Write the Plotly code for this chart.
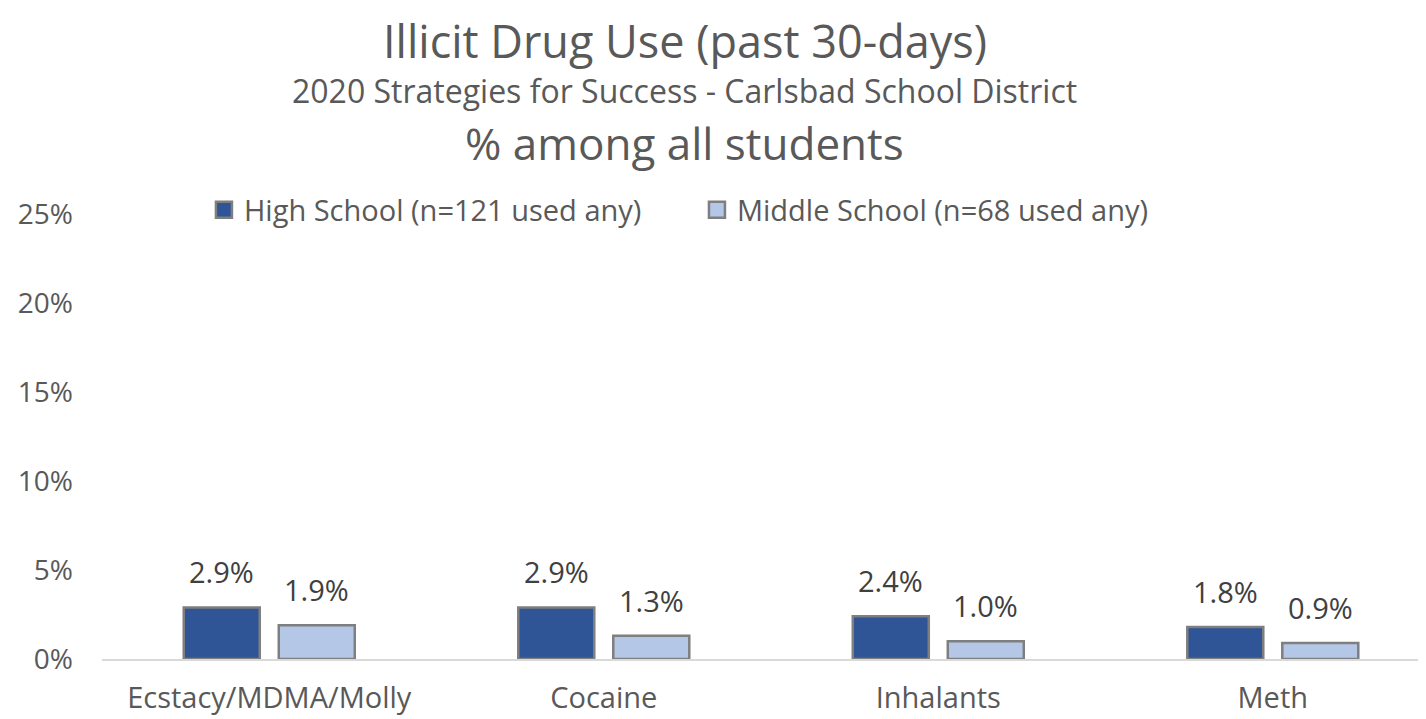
import plotly.graph_objects as go

categories = ["Ecstacy/MDMA/Molly", "Cocaine", "Inhalants", "Meth"]
high_school = [2.9, 2.9, 2.4, 1.8]
middle_school = [1.9, 1.3, 1.0, 0.9]
hs_name = "High School (n=121 used any)"
ms_name = "Middle School (n=68 used any)"
tick_vals = [0, 5, 10, 15, 20, 25]
tick_text = ["0%", "5%", "10%", "15%", "20%", "25%"]

FONT = "Open Sans"
GREY = "#595959"
LABEL = "#404040"
HS_COLOR = "#2F5597"
MS_COLOR = "#B4C7E7"
EDGE = "#7F7F7F"

fig = go.Figure()
fig.add_trace(go.Bar(
    x=categories, y=high_school, name=hs_name, showlegend=False,
    marker=dict(color=HS_COLOR, line=dict(color=EDGE, width=2.5)),
))
fig.add_trace(go.Bar(
    x=categories, y=middle_school, name=ms_name, showlegend=False,
    marker=dict(color=MS_COLOR, line=dict(color=EDGE, width=2.5)),
))
# legend entries with larger square swatches
for name, color in ((hs_name, HS_COLOR), (ms_name, MS_COLOR)):
    fig.add_trace(go.Scatter(
        x=[None], y=[None], mode="markers", name=name, showlegend=True,
        marker=dict(symbol="square", size=17, color=color, line=dict(color=EDGE, width=2.5)),
    ))

annotations = [
    dict(text="Illicit Drug Use (past 30-days)", x=0.44, y=1.39, xref="paper", yref="paper",
         xanchor="center", yanchor="middle", showarrow=False, font=dict(size=45, color=GREY)),
    dict(text="2020 Strategies for Success - Carlsbad School District", x=0.44, y=1.278,
         xref="paper", yref="paper", xanchor="center", yanchor="middle", showarrow=False,
         font=dict(size=32, color=GREY)),
    dict(text="% among all students", x=0.44, y=1.16, xref="paper", yref="paper",
         xanchor="center", yanchor="middle", showarrow=False, font=dict(size=44, color=GREY)),
]
for series, shift in ((high_school, -47.5), (middle_school, 47.5)):
    for cat, v in zip(categories, series):
        annotations.append(dict(
            text=f"{v:.1f}%", x=cat, y=v, xref="x", yref="y", xshift=shift, yshift=14,
            xanchor="center", yanchor="bottom", showarrow=False,
            font=dict(size=29, color=LABEL)))

fig.update_layout(
    width=1418, height=711,
    margin=dict(l=94, r=0, t=206, b=60),
    paper_bgcolor="white", plot_bgcolor="white",
    barmode="group", bargap=0.432, bargroupgap=0.2,
    font=dict(family=FONT, color=GREY, size=28),
    showlegend=True,
    legend=dict(orientation="h", x=0.077, xanchor="left", y=1.009, yanchor="middle",
                font=dict(size=29, color=GREY, family=FONT), itemwidth=30,
                entrywidth=448, entrywidthmode="pixels",
                bgcolor="rgba(0,0,0,0)"),
    xaxis=dict(range=[-0.5, 3.458], showgrid=False, showline=True, linecolor="#D9D9D9",
               linewidth=2, ticks="", tickfont=dict(size=29, color=GREY), ticklabelstandoff=12,
               automargin=False),
    yaxis=dict(range=[0, 25], tickvals=tick_vals, ticktext=tick_text, showgrid=False,
               zeroline=False, showline=False, ticks="", tickfont=dict(size=28, color=GREY),
               ticklabelstandoff=28, automargin=False),
    annotations=annotations,
)

fig.write_html("out.html")
